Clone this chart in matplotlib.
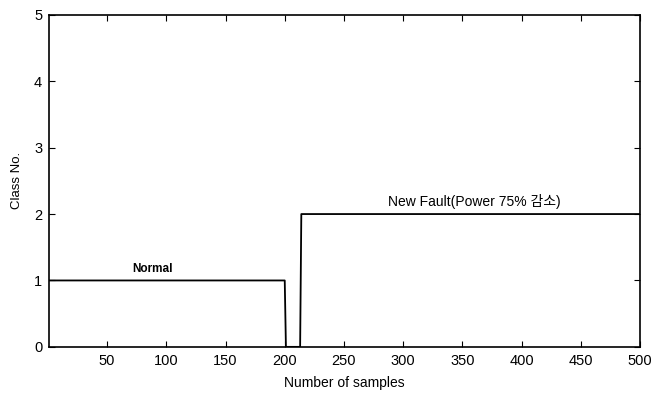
import numpy as np
import matplotlib.pyplot as plt

plt.rcParams['font.family'] = ['Liberation Sans', 'Noto Sans CJK KR', 'DejaVu Sans']

# class label per sample
n_samples = 500
normal_end = 200      # last sample of class 1
gap_end = 213         # last sample of class 0
samples = np.arange(1, n_samples + 1)
class_no = np.where(samples <= normal_end, 1, np.where(samples <= gap_end, 0, 2))

xticks = np.arange(50, 501, 50)
yticks = [0, 1, 2, 3, 4, 5]

fig = plt.figure(figsize=(6.55, 4.01), dpi=100)
ax = fig.add_axes([0.075, 0.135, 0.902, 0.828])
ax.plot(samples, class_no, color='black', linewidth=1.3)

ax.set_xlim(1, 500)
ax.set_ylim(0, 5)
ax.set_xticks(xticks)
ax.set_yticks(yticks)
for s in ax.spines.values():
    s.set_linewidth(1.2)
ax.tick_params(direction='in', top=True, right=True, labelsize=10.5, length=4, pad=5)
ax.set_xlabel("Number of samples", fontsize=10, labelpad=6)
ax.set_ylabel("Class No.", fontsize=9.5, labelpad=8)

ax.text(88, 1.08, "Normal", fontsize=8.5, fontweight='bold', ha='center', va='bottom')
ax.text(287, 2.07, "New Fault(Power 75% 감소)", fontsize=10, ha='left', va='bottom')

fig.savefig("out.png", dpi=100)
